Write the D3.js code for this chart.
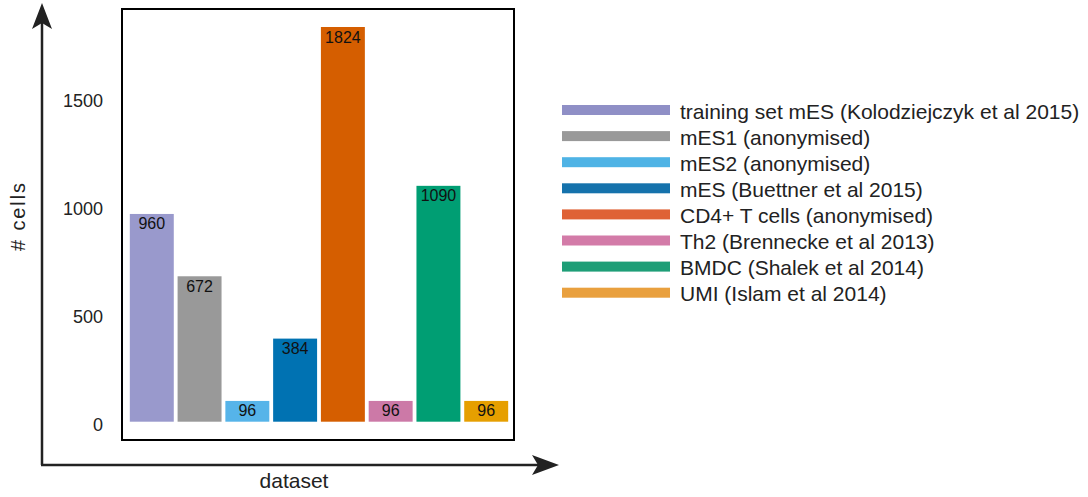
<!DOCTYPE html>
<html><head><meta charset="utf-8">
<script src="https://cdn.jsdelivr.net/npm/d3@7"></script>
<style>body{margin:0;background:#fff}svg{display:block;font-family:"Liberation Sans",Arial,Helvetica,sans-serif}</style>
</head><body><svg id="c" width="1088" height="497"></svg>
<script>
const categories = ["training set mES (Kolodziejczyk et al 2015)","mES1 (anonymised)","mES2 (anonymised)","mES (Buettner et al 2015)","CD4+ T cells (anonymised)","Th2 (Brennecke et al 2013)","BMDC (Shalek et al 2014)","UMI (Islam et al 2014)"];
const values = [960, 672, 96, 384, 1824, 96, 1090, 96];
const barColors = ["#9999cc","#999999","#56b4e9","#0072b2","#d55e00","#cc79a7","#009e73","#e69f00"];
const legendColors = ["#8f8fc6","#999999","#4fb3e5","#1572ac","#df6236","#d37ba8","#1e9e77","#e9a03e"];
const yTicks = [0, 500, 1000, 1500];

const svg = d3.select("#c");
const x = d3.scaleBand().domain(categories).range([126, 512]).padding(0.08);
const y = d3.scaleLinear().domain([0, 1824]).range([421.7, 27]);

// frame
svg.append("rect").attr("x",122).attr("y",9).attr("width",392).attr("height",431)
  .attr("fill","none").attr("stroke","#000").attr("stroke-width",2);

// bars
svg.selectAll("rect.bar").data(values).join("rect").attr("class","bar")
  .attr("x",(d,i)=>x(categories[i])).attr("width",x.bandwidth())
  .attr("y",d=>y(d)).attr("height",d=>y(0)-y(d))
  .attr("fill",(d,i)=>barColors[i]);
svg.selectAll("text.lab").data(values).join("text").attr("class","lab")
  .attr("x",(d,i)=>x(categories[i])+x.bandwidth()/2).attr("y",d=>y(d)+15.5)
  .attr("text-anchor","middle").attr("font-size",16).attr("fill","#111").text(d=>d);

// y tick labels via axis
const ax = svg.append("g").attr("transform","translate(112,0)")
  .call(d3.axisLeft(y).tickValues(yTicks).tickFormat(d3.format("d")).tickSize(0).tickPadding(9));
ax.select(".domain").remove();
ax.selectAll("text").attr("font-size",18).attr("fill","#222").attr("dy","0.5em")
  .attr("font-family","Liberation Sans, Arial, sans-serif");

// arrows
const ac = "#222";
svg.append("line").attr("x1",42).attr("y1",465).attr("x2",42).attr("y2",22).attr("stroke",ac).attr("stroke-width",2.5);
svg.append("path").attr("d","M42,3 L52,29 L42,23 L32,29 Z").attr("fill",ac);
svg.append("line").attr("x1",41).attr("y1",465).attr("x2",540).attr("y2",465).attr("stroke",ac).attr("stroke-width",2.5);
svg.append("path").attr("d","M559,465 L532,455 L538,465 L532,475 Z").attr("fill",ac);

svg.append("text").attr("transform","translate(25,217) rotate(-90)").attr("text-anchor","middle")
  .attr("font-size",20).attr("textLength",68).attr("lengthAdjust","spacing")
  .attr("fill","#222").text("# cells");
svg.append("text").attr("x",294).attr("y",488).attr("text-anchor","middle")
  .attr("font-size",21).attr("fill","#222").text("dataset");

// legend
const lg = svg.append("g");
categories.forEach((c,i)=>{
  const cy = 110 + i*26.1;
  lg.append("rect").attr("x",562).attr("y",cy-5).attr("width",108).attr("height",10).attr("fill",legendColors[i]);
  lg.append("text").attr("x",680).attr("y",cy+8.5).attr("font-size",21).attr("fill","#222").text(c);
});
</script></body></html>
